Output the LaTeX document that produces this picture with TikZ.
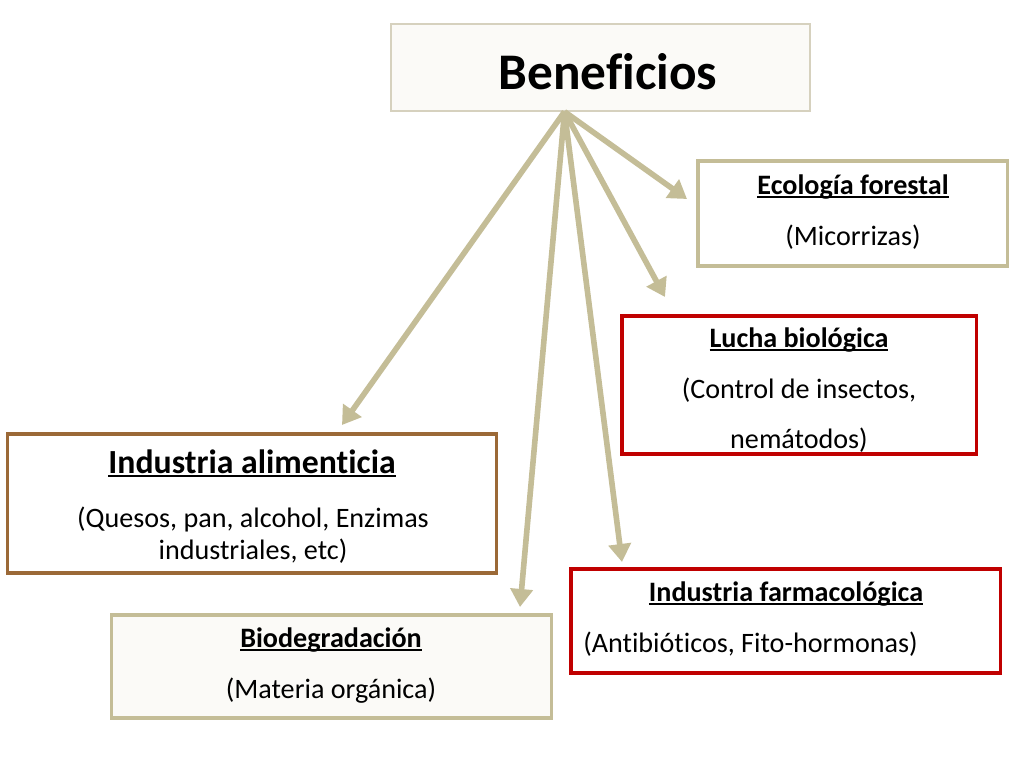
\documentclass[tikz,border=0pt]{standalone}
\usepackage{fontspec}
\setmainfont{Carlito}[Ligatures={NoCommon}]
\usepackage{tikz}
\usetikzlibrary{arrows.meta}

\definecolor{Tan}{RGB}{196,189,151}
\definecolor{PaleTan}{RGB}{214,209,190}
\definecolor{Paper}{RGB}{251,250,247}
\definecolor{Brown}{RGB}{155,105,55}
\definecolor{DarkRed}{RGB}{192,0,0}

% underline that cuts through descenders
\newcommand{\undl}[1]{\setbox0\hbox{#1}\rlap{\vrule height -1.6pt depth 2.6pt width \wd0}\box0}
\newcommand{\txt}{\fontsize{20pt}{24pt}\selectfont}

\tikzset{
	box/.style={draw, line width=2.2pt, inner sep=0pt},
	line/.style={anchor=base, inner sep=0pt, font=\txt},
	head/.style={anchor=base, inner sep=0pt, font=\txt\bfseries},
	link/.style={draw=Tan, line width=4pt, -{Triangle[length=0.45cm, width=0.55cm]}}
}

\begin{document}
\begin{tikzpicture}[x=0.025cm, y=-0.025cm]
		\useasboundingbox (0,0) rectangle (1024,768);
		% boxes
		\node[box, draw=PaleTan, line width=1pt, fill=Paper, minimum width=10.475cm, minimum height=2.175cm] (ben) at (600.5,67.5) {};
		\node[box, draw=Tan, minimum width=7.725cm, minimum height=2.625cm] (eco) at (852.5,213.5) {};
		\node[box, draw=DarkRed, minimum width=8.85cm, minimum height=3.45cm] (lucha) at (799,385) {};
		\node[box, draw=Brown, minimum width=12.2cm, minimum height=3.475cm] (alim) at (252,503.5) {};
		\node[box, draw=Tan, fill=Paper, minimum width=10.975cm, minimum height=2.575cm] (bio) at (331.5,666.5) {};
		\node[box, draw=DarkRed, minimum width=10.725cm, minimum height=2.6cm] (farma) at (785.5,621) {};
		% texts
		\node[head, font=\fontsize{36.5pt}{40pt}\selectfont\bfseries] (benT) at (608,90) {Beneficios};
		\node[head] (ecoT) at (853,194) {\undl{Ecología forestal}};
		\node[line] (ecoL) at (853,245) {(Micorrizas)};
		\node[head] (luchaT) at (799,347) {\undl{Lucha biológica}};
		\node[line] (luchaL1) at (799,398) {(Control de insectos,};
		\node[line] (luchaL2) at (799,448) {nemátodos)};
		\node[head, font=\fontsize{24pt}{28pt}\selectfont\bfseries] (alimT) at (252,473) {\undl{Industria alimenticia}};
		\node[line] (alimL1) at (253,527) {(Quesos, pan, alcohol, Enzimas};
		\node[line] (alimL2) at (253,559) {industriales, etc)};
		\node[head] (bioT) at (331,647) {\undl{Biodegradación}};
		\node[line] (bioL) at (331,698) {(Materia orgánica)};
		\node[head] (farmaT) at (786,601) {\undl{Industria farmacológica}};
		\node[line, anchor=base west] (farmaL) at (583,652) {(Antibióticos, Fito-hormonas)};
		% arrows
		\coordinate (hub) at ([xshift=-0.9cm]ben.south);
		\coordinate (toAlim) at (342,425);
		\coordinate (toBio) at (520,607);
		\coordinate (toFarma) at (622,562);
		\coordinate (toLucha) at (665,297);
		\coordinate (toEco) at (687,199);
		\foreach \t in {toAlim,toBio,toFarma,toLucha,toEco}
			\draw[link] (hub) -- (\t);
	\end{tikzpicture}
\end{document}
